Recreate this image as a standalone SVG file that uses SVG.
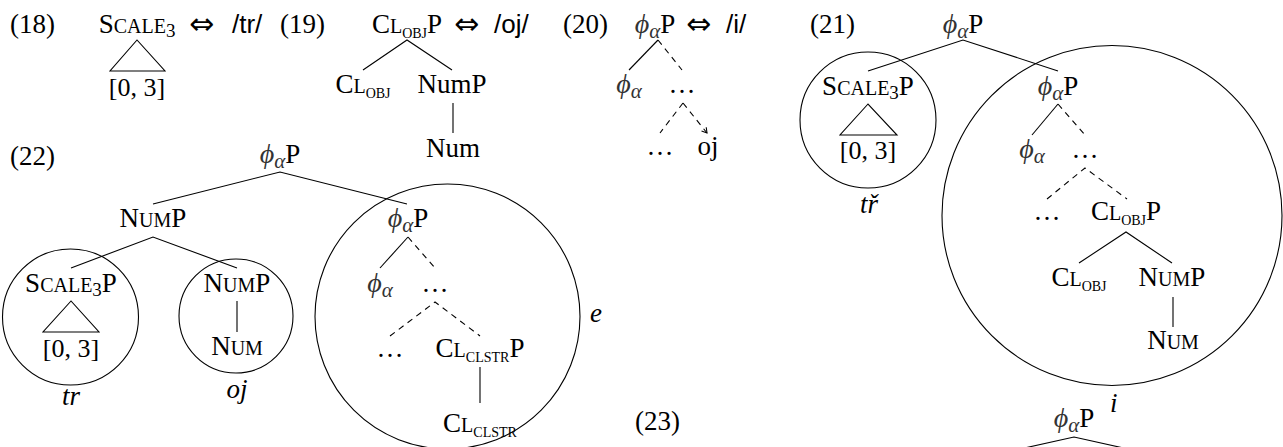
<svg xmlns="http://www.w3.org/2000/svg" width="1283" height="447" viewBox="0 0 1283 447">
<style>
text{font-family:"Liberation Serif","DejaVu Serif",serif;font-size:27px;fill:#000}
.sc{font-size:20px}
.sb{font-size:19px}
.tc{font-size:14px}
.br{font-size:26px}
.it{font-style:italic}
.gr{font-style:italic;font-size:28px;fill:#333}
.ga{font-style:italic;font-size:21px;fill:#333}
.sans{font-family:"Liberation Sans","DejaVu Sans",sans-serif;font-size:26px}
.arr{font-family:"DejaVu Sans","DejaVu Serif",sans-serif;font-size:30px}
.ln{stroke:#000;stroke-width:1.1;fill:none}
.ds{stroke:#000;stroke-width:1.1;fill:none;stroke-dasharray:6 5}
.cc{stroke:#000;stroke-width:1.1;fill:none}
</style>
<defs>
<marker id="ah" markerWidth="8" markerHeight="8" refX="6" refY="4" orient="auto" markerUnits="userSpaceOnUse">
<path d="M1,1 L6,4 L1,7" stroke="#000" stroke-width="1.1" fill="none"/>
</marker>
</defs>

<g id="connectors">
<polygon class="ln" points="137,40 110,71 165,71"/>
<path class="ln" d="M363,70 L407,40 L452,70 M453,103 L453,133"/>
<path class="ln" d="M629,70 L658,40"/>
<path class="ds" d="M658,40 L682,70 M683,103 L660,133"/>
<path class="ds" d="M683,103 L707,133" marker-end="url(#ah)"/>
<path class="ln" d="M868,71 L963,40 L1058,71"/>
<polygon class="ln" points="868,104 840,135 897,135"/>
<path class="ln" d="M1032,135 L1058,104"/>
<path class="ds" d="M1058,104 L1085,135 M1047,199 L1085,168 L1127,199"/>
<path class="ln" d="M1079,263 L1126,232 L1172,263 M1173,297 L1173,327"/>
<path class="ln" d="M153,204 L280,172 L407,204 M71,268 L153,237 L237,268 M237,301 L237,332"/>
<polygon class="ln" points="71,301 43,332 99,332"/>
<path class="ln" d="M380,268 L408,237"/>
<path class="ds" d="M408,237 L435,268 M390,336 L435,302 L480,336"/>
<path class="ln" d="M480,367 L480,403"/>
<path class="ln" d="M1020,449 L1074,437 L1128,449"/>
</g>

<g id="circles">
<circle class="cc" cx="868" cy="120" r="68"/>
<circle class="cc" cx="1112" cy="215.5" r="170"/>
<circle class="cc" cx="70.5" cy="317" r="68"/>
<circle class="cc" cx="236" cy="316" r="57"/>
<circle class="cc" cx="447.5" cy="316.5" r="132.5"/>
</g>

<g id="ex18">
<text x="10" y="33">(18)</text>
<text x="137" y="33" text-anchor="middle">S<tspan class="sc">CALE</tspan><tspan class="sb" dy="4">3</tspan></text>
<text class="arr" x="189" y="34">⇔</text>
<text class="sans" x="232" y="33">/tr/</text>
<text x="280" y="33">(19)</text>
<text class="br" x="137" y="96" text-anchor="middle">[0, 3]</text>
</g>

<g id="ex19">
<text x="407" y="33" text-anchor="middle">C<tspan class="sc">L</tspan><tspan class="tc" dy="5">OBJ</tspan><tspan dy="-5">P</tspan></text>
<text class="arr" x="454" y="34">⇔</text>
<text class="sans" x="494" y="33">/oj/</text>
<text x="363" y="93" text-anchor="middle">C<tspan class="sc">L</tspan><tspan class="tc" dy="5">OBJ</tspan></text>
<text x="452" y="93" text-anchor="middle">NumP</text>
<text x="453" y="157" text-anchor="middle">Num</text>
</g>

<g id="ex20">
<text x="563" y="33">(20)</text>
<text x="655" y="33" text-anchor="middle"><tspan class="gr">ϕ</tspan><tspan class="ga" dy="5">α</tspan><tspan dy="-5">P</tspan></text>
<text class="arr" x="686" y="34">⇔</text>
<text class="sans" x="726" y="33">/i/</text>
<text x="629" y="93" text-anchor="middle"><tspan class="gr">ϕ</tspan><tspan class="ga" dy="5">α</tspan></text>
<text x="682" y="93" text-anchor="middle">…</text>
<text x="660" y="155" text-anchor="middle">…</text>
<text x="708" y="155" text-anchor="middle">oj</text>
</g>

<g id="ex21">
<text x="810" y="33">(21)</text>
<text x="963" y="33" text-anchor="middle"><tspan class="gr">ϕ</tspan><tspan class="ga" dy="5">α</tspan><tspan dy="-5">P</tspan></text>
<text x="868" y="95" text-anchor="middle">S<tspan class="sc">CALE</tspan><tspan class="sb" dy="4">3</tspan><tspan dy="-4">P</tspan></text>
<text class="br" x="868" y="159" text-anchor="middle">[0, 3]</text>
<text class="it" x="869" y="213" text-anchor="middle">tř</text>
<text x="1058" y="95" text-anchor="middle"><tspan class="gr">ϕ</tspan><tspan class="ga" dy="5">α</tspan><tspan dy="-5">P</tspan></text>
<text x="1032" y="158" text-anchor="middle"><tspan class="gr">ϕ</tspan><tspan class="ga" dy="5">α</tspan></text>
<text x="1085" y="158" text-anchor="middle">…</text>
<text x="1047" y="220" text-anchor="middle">…</text>
<text x="1126" y="220" text-anchor="middle">C<tspan class="sc">L</tspan><tspan class="tc" dy="5">OBJ</tspan><tspan dy="-5">P</tspan></text>
<text x="1079" y="286" text-anchor="middle">C<tspan class="sc">L</tspan><tspan class="tc" dy="5">OBJ</tspan></text>
<text x="1172" y="286" text-anchor="middle">N<tspan class="sc">UM</tspan>P</text>
<text x="1173" y="349" text-anchor="middle">N<tspan class="sc">UM</tspan></text>
<text class="it" x="1110" y="412">i</text>
</g>

<g id="ex22">
<text x="10" y="165">(22)</text>
<text x="280" y="163" text-anchor="middle"><tspan class="gr">ϕ</tspan><tspan class="ga" dy="5">α</tspan><tspan dy="-5">P</tspan></text>
<text x="153" y="227" text-anchor="middle">N<tspan class="sc">UM</tspan>P</text>
<text x="71" y="292" text-anchor="middle">S<tspan class="sc">CALE</tspan><tspan class="sb" dy="4">3</tspan><tspan dy="-4">P</tspan></text>
<text class="br" x="71" y="357" text-anchor="middle">[0, 3]</text>
<text class="it" x="71" y="405" text-anchor="middle">tr</text>
<text x="237" y="292" text-anchor="middle">N<tspan class="sc">UM</tspan>P</text>
<text x="237" y="355" text-anchor="middle">N<tspan class="sc">UM</tspan></text>
<text class="it" x="237" y="398" text-anchor="middle">oj</text>
<text x="408" y="227" text-anchor="middle"><tspan class="gr">ϕ</tspan><tspan class="ga" dy="5">α</tspan><tspan dy="-5">P</tspan></text>
<text x="380" y="292" text-anchor="middle"><tspan class="gr">ϕ</tspan><tspan class="ga" dy="5">α</tspan></text>
<text x="435" y="292" text-anchor="middle">…</text>
<text x="390" y="357" text-anchor="middle">…</text>
<text x="480" y="357" text-anchor="middle">C<tspan class="sc">L</tspan><tspan class="tc" dy="5">CLSTR</tspan><tspan dy="-5">P</tspan></text>
<text x="480" y="432" text-anchor="middle">C<tspan class="sc">L</tspan><tspan class="tc" dy="5">CLSTR</tspan></text>
<text class="it" x="590" y="322">e</text>
</g>

<g id="ex23">
<text x="635" y="430">(23)</text>
<text x="1074" y="427" text-anchor="middle"><tspan class="gr">ϕ</tspan><tspan class="ga" dy="5">α</tspan><tspan dy="-5">P</tspan></text>
</g>
</svg>
